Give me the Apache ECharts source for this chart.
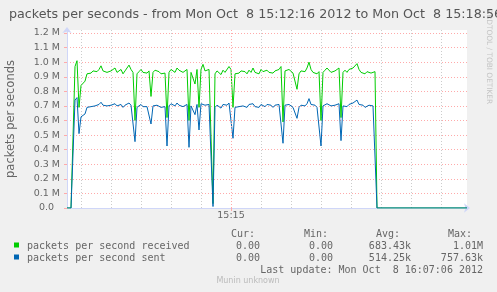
<!DOCTYPE html>
<html><head><meta charset="utf-8">
<script src="https://cdn.jsdelivr.net/npm/echarts@6/dist/echarts.min.js"></script>
<style>html,body{margin:0;padding:0;background:#f0f0f0;}#c{width:497px;height:292px;}</style>
</head><body><div id="c"></div>
<script>
// Time axis: samples every 2 s from 15:12:16 to 15:18:56
const startTime = [15, 12, 16];
const stepSeconds = 2;
const sampleCount = 201;
const xTickLabels = { '15:15:00': '15:15' };

// values in millions of packets per second
const received = [
0,0,0,0,0.97,1.01,0.69,0.84,0.85,0.87,
0.92,0.93,0.925,0.94,0.93,0.935,0.95,0.975,0.94,0.945,
0.93,0.92,0.94,0.935,0.96,0.93,0.925,0.95,0.92,0.94,
0.945,0.98,0.95,0.93,0.60,0.92,0.935,0.95,0.93,0.94,
0.925,0.94,0.765,0.93,0.945,0.95,0.935,0.92,0.93,0.925,
0.62,0.93,0.95,0.94,0.93,0.96,0.945,0.95,0.93,0.94,
0.95,0.60,0.93,0.94,0.85,0.95,0.69,0.95,0.985,0.94,
0.93,0.95,0.96,0.03,0.92,0.94,0.93,0.915,0.945,0.93,
0.94,0.97,0.95,0.69,0.92,0.93,0.925,0.94,0.93,0.935,
0.92,0.945,0.93,0.96,0.93,0.94,0.92,0.95,0.935,0.93,
0.945,0.93,0.94,0.925,0.94,0.93,0.95,0.97,0.59,0.94,
0.93,0.95,0.94,0.925,0.93,0.814,0.92,0.94,0.95,0.935,
0.96,1.0,0.95,0.93,0.94,0.92,0.935,0.60,0.93,0.945,
0.96,0.95,0.93,0.925,0.94,0.95,0.96,0.62,0.93,0.945,
0.93,0.95,0.94,0.96,0.97,0.99,0.95,0.93,0.94,0.92,
0.935,0.94,0.925,0.93,0.935,0,0,0,0,0,
0,0,0,0,0,0,0,0,0,0,
0,0,0,0,0,0,0,0,0,0,
0,0,0,0,0,0,0,0,0,0,
0,0,0,0,0,0,0,0,0,0,
0
];
const sent = [
0,0,0,0,0.74,0.757,0.51,0.625,0.635,0.645,
0.69,0.70,0.695,0.705,0.70,0.70,0.71,0.725,0.705,0.71,
0.70,0.695,0.705,0.70,0.715,0.70,0.695,0.71,0.69,0.705,
0.71,0.72,0.705,0.70,0.455,0.69,0.70,0.71,0.695,0.705,
0.695,0.705,0.576,0.70,0.71,0.705,0.70,0.69,0.70,0.695,
0.425,0.70,0.715,0.705,0.70,0.72,0.705,0.71,0.695,0.70,
0.71,0.416,0.70,0.705,0.64,0.71,0.535,0.715,0.725,0.705,
0.70,0.71,0.715,0.01,0.69,0.705,0.70,0.685,0.71,0.70,
0.705,0.72,0.71,0.478,0.69,0.70,0.695,0.705,0.70,0.70,
0.69,0.71,0.70,0.715,0.695,0.705,0.69,0.71,0.70,0.695,
0.71,0.70,0.705,0.69,0.705,0.70,0.71,0.72,0.444,0.705,
0.70,0.71,0.705,0.69,0.70,0.615,0.69,0.705,0.71,0.70,
0.715,0.75,0.71,0.70,0.705,0.69,0.70,0.425,0.70,0.71,
0.715,0.71,0.70,0.69,0.705,0.71,0.715,0.462,0.70,0.705,
0.695,0.71,0.705,0.72,0.73,0.74,0.71,0.70,0.705,0.69,
0.70,0.705,0.695,0.70,0.70,0,0,0,0,0,
0,0,0,0,0,0,0,0,0,0,
0,0,0,0,0,0,0,0,0,0,
0,0,0,0,0,0,0,0,0,0,
0,0,0,0,0,0,0,0,0,0,
0
];

const seriesNames = ['packets per second received', 'packets per second sent'];
const seriesColors = ['#00cc00', '#0066b3'];
const statHeaders = ['Cur:', 'Min:', 'Avg:', 'Max:'];
const statCur = ['0.00', '0.00'];
const statMin = ['0.00', '0.00'];
const statAvg = ['683.43k', '514.25k'];
const statMax = ['1.01M', '757.63k'];
const titleText = 'packets per seconds - from Mon Oct  8 15:12:16 2012 to Mon Oct  8 15:18:56';
const lastUpdate = 'Last update: Mon Oct  8 16:07:06 2012';
const yAxisName = 'packets per seconds';
const yMax = 1.2206;

function pad(n) { return (n < 10 ? '0' : '') + n; }
const categories = [];
for (let i = 0; i < sampleCount; i++) {
  const s = startTime[0] * 3600 + startTime[1] * 60 + startTime[2] + i * stepSeconds;
  categories.push(pad(Math.floor(s / 3600)) + ':' + pad(Math.floor(s / 60) % 60) + ':' + pad(s % 60));
}
const majorIdx = categories.indexOf('15:15:00');

const mono = '10px "DejaVu Sans Mono"';
const fontColor = '#666';
const graphics = [];
const headerX = [231, 304, 376, 448];
const valueX = [260, 333, 411, 483];
statHeaders.forEach((h, k) => graphics.push({type:'text', x: headerX[k], y: 234,
  style:{text:h, font:mono, fill:fontColor, textAlign:'left', textVerticalAlign:'middle'}}));
seriesNames.forEach((name, r) => {
  const y = 246 + r * 12;
  graphics.push({type:'rect', shape:{x:14, y:y-3.5, width:5, height:5}, style:{fill:seriesColors[r]}});
  graphics.push({type:'text', x:27, y:y, style:{text:name, font:mono, fill:fontColor, textAlign:'left', textVerticalAlign:'middle'}});
  [statCur, statMin, statAvg, statMax].forEach((arr, k) => graphics.push({type:'text', x:valueX[k], y:y,
    style:{text:arr[r], font:mono, fill:fontColor, textAlign:'right', textVerticalAlign:'middle'}}));
});
graphics.push({type:'text', x:483, y:270, style:{text:lastUpdate, font:mono, fill:fontColor, textAlign:'right', textVerticalAlign:'middle'}});
graphics.push({type:'text', x:248, y:281, style:{text:'Munin unknown', font:'8px "DejaVu Sans"', fill:'#bbb', textAlign:'center', textVerticalAlign:'middle'}});
graphics.push({type:'text', x:489, y:9, rotation:-Math.PI/2, style:{text:'RRDTOOL / TOBI OETIKER', font:'7.4px "DejaVu Sans"', fill:'#c4c4c4', textAlign:'left', textVerticalAlign:'middle'}});

const chart = echarts.init(document.getElementById('c'), null, {renderer:'canvas'});
chart.setOption({
  animation:false,
  backgroundColor:'#f0f0f0',
  title:{text:titleText, left:4, top:3, textStyle:{fontSize:12.7, fontWeight:'normal', color:'#555', fontFamily:'DejaVu Sans'}},
  grid:{left:67, right:30, top:30, bottom:84, show:true, backgroundColor:'#ffffff', borderWidth:0, containLabel:false, outerBoundsMode:'none'},
  xAxis:{
    type:'category', data:categories, boundaryGap:false,
    axisLine:{show:true, lineStyle:{color:'#CFD6F8'}, symbol:['none','arrow'], symbolSize:[7,6], symbolOffset:[0,3]},
    axisTick:{show:true, interval:(i)=>i===majorIdx, length:3, lineStyle:{color:'#ffaaaa'}},
    axisLabel:{interval:(i)=>xTickLabels[categories[i]]!==undefined, formatter:(v)=>xTickLabels[v]||'', fontSize:9.5, color:fontColor, margin:3, fontFamily:'DejaVu Sans'},
    splitLine:{show:true, interval:(i)=>(i-7)%15===0 && i!==majorIdx, lineStyle:{color:'#cccccc', type:[1,2], width:1}}
  },
  yAxis:{
    type:'value', min:0, max:yMax, interval:0.1,
    name:yAxisName, nameLocation:'middle', nameGap:50, nameRotate:90,
    nameTextStyle:{fontSize:11.5, color:fontColor, fontFamily:'DejaVu Sans'},
    axisLine:{show:true, lineStyle:{color:'#CFD6F8'}, symbol:['none','arrow'], symbolSize:[7,6], symbolOffset:[0,3]},
    axisTick:{show:true, length:3, lineStyle:{color:'#ffaaaa'}},
    axisLabel:{formatter:(v)=> Math.abs(v)<1e-9 ? '{z|0.0}' : v.toFixed(1)+' M', fontSize:9.5, color:fontColor, margin:7, fontFamily:'DejaVu Sans', showMaxLabel:false,
      rich:{z:{fontSize:9.5, color:fontColor, fontFamily:'DejaVu Sans', padding:[0,6,0,0]}}},
    splitLine:{show:true, showMaxLine:false, lineStyle:{color:'#ffaaaa', type:[1,2], width:1}}
  },
  series:[
    {type:'line', name:'major grid', data:[], z:1, silent:true,
     markLine:{silent:true, symbol:['none','none'], label:{show:false}, animation:false,
       lineStyle:{color:'#ffaaaa', type:[1,2], width:1}, data:[{xAxis:'15:15:00'}]}},
    {type:'line', name:seriesNames[0], data:received, symbol:'none', showSymbol:false, z:3,
     lineStyle:{width:1, color:seriesColors[0]}, itemStyle:{color:seriesColors[0]}},
    {type:'line', name:seriesNames[1], data:sent, symbol:'none', showSymbol:false, z:4,
     lineStyle:{width:1, color:seriesColors[1]}, itemStyle:{color:seriesColors[1]}}
  ],
  graphic:graphics
});
</script></body></html>
